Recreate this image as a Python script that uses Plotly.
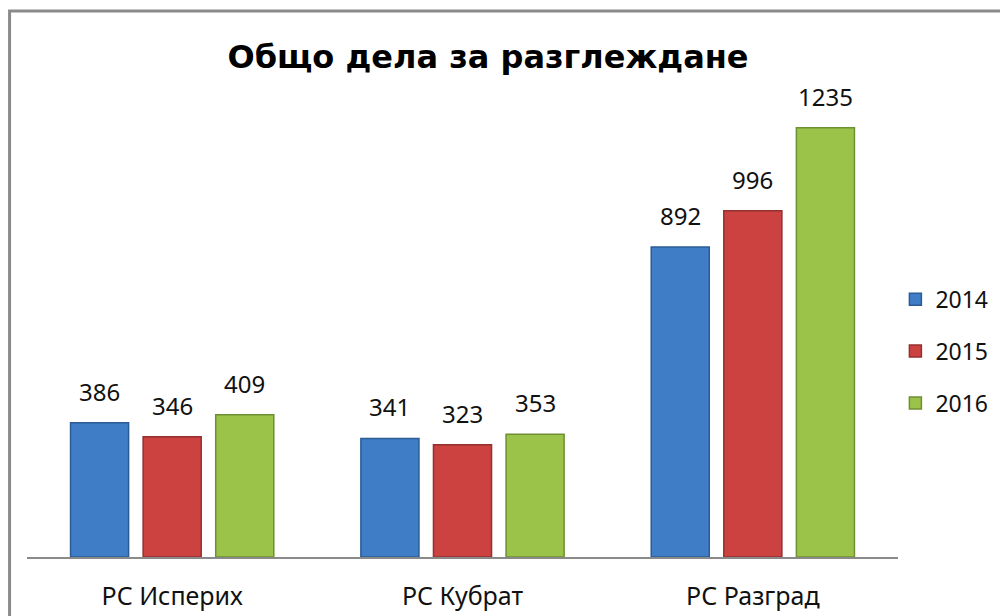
import plotly.graph_objects as go

# data
courts = ["РС Исперих", "РС Кубрат", "РС Разград"]
years = ["2014", "2015", "2016"]
cases_2014 = [386, 341, 892]
cases_2015 = [346, 323, 996]
cases_2016 = [409, 353, 1235]

series = [cases_2014, cases_2015, cases_2016]
fills = ["#3F7DC7", "#CC4240", "#9BC34A"]
edges = ["#2B5C95", "#933030", "#6F8F33"]

bargap = 0.25
slot = (1 - bargap) / len(years)

fig = go.Figure()
annotations = []
for i, (yr, vals) in enumerate(zip(years, series)):
    fig.add_trace(go.Bar(
        x=list(range(len(courts))), y=vals, name=yr, legendgroup=yr,
        marker=dict(color=fills[i], line=dict(color=edges[i], width=1.5)),
    ))
    # value labels above each bar
    for j, v in enumerate(vals):
        annotations.append(dict(
            x=j + (i - 1) * slot, y=v, xref="x", yref="y",
            text=str(v), showarrow=False, yanchor="bottom", yshift=13,
            font=dict(family="Noto Sans", size=24, color="#111"),
        ))

# page body has an 8px margin, so the figure is drawn 8px smaller
fig.update_layout(
    width=1000, height=608,
    margin=dict(l=19, r=110, t=52, b=59, autoexpand=False),
    paper_bgcolor="white", plot_bgcolor="white",
    barmode="group", bargap=bargap, bargroupgap=0.2,
    title=dict(text="<b>Общо дела за разглеждане</b>", x=0.48, xanchor="center",
               y=0.919, yanchor="middle",
               font=dict(family="DejaVu Sans", size=32, color="black")),
    legend=dict(x=0.997, xanchor="left", y=0.414, yanchor="middle",
                tracegroupgap=19, traceorder="grouped",
                font=dict(family="Noto Sans", size=23, color="#111")),
    annotations=annotations,
    shapes=[dict(type="rect", xref="paper", yref="paper",
                 x0=-0.0200, x1=1.14, y0=-0.3, y1=1.0986,
                 line=dict(color="#8A8A8A", width=3), layer="below")],
    font=dict(family="Noto Sans"),
)
fig.update_xaxes(
    tickmode="array", tickvals=list(range(len(courts))), ticktext=courts,
    range=[-0.5, len(courts) - 0.5],
    showline=True, linecolor="#8A8A8A", linewidth=1.5,
    showgrid=False, zeroline=False, ticks="", ticklabelstandoff=16,
    tickfont=dict(family="Noto Sans", size=25, color="#111"),
)
fig.update_yaxes(range=[0, 1430], visible=False, showgrid=False)

fig.write_html("out.html")
